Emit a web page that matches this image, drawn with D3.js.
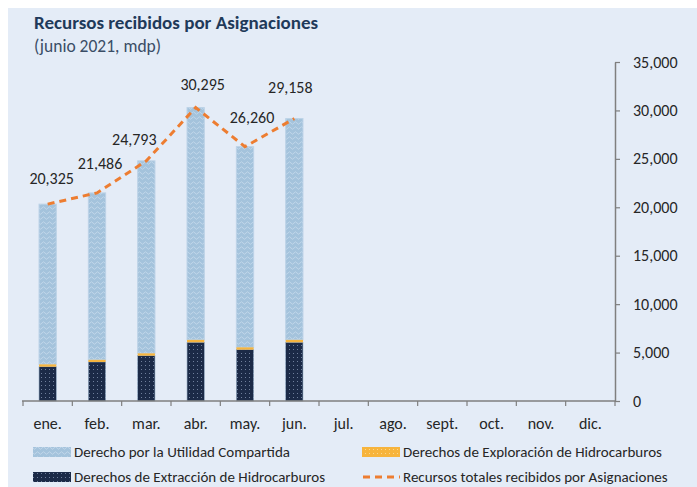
<!DOCTYPE html>
<html><head><meta charset="utf-8">
<script src="https://cdn.jsdelivr.net/npm/d3@7"></script>
<style>
html,body{margin:0;padding:0;background:#fff;}
text{font-family:Carlito,Calibri,Lato,"Open Sans",sans-serif;}
</style></head>
<body>
<svg id="c" width="697" height="487"></svg>
<script>
const months = ["ene.","feb.","mar.","abr.","may.","jun.","jul.","ago.","sept.","oct.","nov.","dic."];
const totals = [20325, 21486, 24793, 30295, 26260, 29158];
const extraccion = [3540, 4030, 4680, 6060, 5300, 6060];
const exploracion = [240, 220, 240, 250, 240, 250];
const utilidad = totals.map((t,i)=>t-extraccion[i]-exploracion[i]);
const yTicks = [0,5000,10000,15000,20000,25000,30000,35000];
const labelDx = [4, 3, -12, 7, 7, -4];
const labelDy = [-20, -24, -16, -18, -24, -26];

const svg = d3.select("#c");
svg.append("rect").attr("x",8).attr("y",8).attr("width",689).attr("height",479).attr("fill","#e4ecf7");

const defs = svg.append("defs");
const pw = defs.append("pattern").attr("id","wave").attr("patternUnits","userSpaceOnUse").attr("width",6).attr("height",5);
pw.append("rect").attr("width",6).attr("height",5).attr("fill","#a4c3dc");
pw.append("path").attr("d","M0,3 Q1.5,0.5 3,3 T6,3").attr("fill","none").attr("stroke","#c3d8ea").attr("stroke-width",0.9);
const pd = defs.append("pattern").attr("id","dots").attr("patternUnits","userSpaceOnUse").attr("width",4).attr("height",4);
pd.append("rect").attr("width",4).attr("height",4).attr("fill","#1b2a47");
pd.append("rect").attr("x",1).attr("y",1).attr("width",1).attr("height",1).attr("fill","#6f7f9c");
const po = defs.append("pattern").attr("id","orng").attr("patternUnits","userSpaceOnUse").attr("width",4).attr("height",4);
po.append("rect").attr("width",4).attr("height",4).attr("fill","#f7b43c");
po.append("rect").attr("x",1).attr("y",1).attr("width",1).attr("height",1).attr("fill","#fbd88e");

// titles
svg.append("text").attr("x",34).attr("y",29).attr("font-size",19).attr("font-weight","bold").attr("fill","#1f3a5a").text("Recursos recibidos por Asignaciones");
svg.append("text").attr("x",34).attr("y",52).attr("font-size",17.5).attr("fill","#3a4d66").text("(junio 2021, mdp)");

const x = d3.scaleBand().domain(months).range([23,615]).paddingInner(0).paddingOuter(0);
const y = d3.scaleLinear().domain([0,35000]).range([401,62]);
const bw = x.bandwidth()*0.35;
const cx = (i)=>x(months[i])+x.bandwidth()/2;

const gBars = svg.append("g");
const data = totals.map((t,i)=>({i, ex:extraccion[i], eo:exploracion[i], ut:utilidad[i]}));
gBars.selectAll(".ex").data(data).join("rect")
 .attr("x",d=>cx(d.i)-bw/2).attr("width",bw)
 .attr("y",d=>y(d.ex)).attr("height",d=>y(0)-y(d.ex))
 .attr("fill","url(#dots)").attr("stroke","#8fa7c0").attr("stroke-width",0.6);
gBars.selectAll(".ut").data(data).join("rect")
 .attr("x",d=>cx(d.i)-bw/2).attr("width",bw)
 .attr("y",d=>y(d.ex+d.eo+d.ut)).attr("height",d=>y(d.ex+d.eo)-y(d.ex+d.eo+d.ut))
 .attr("fill","url(#wave)").attr("stroke","#bcd3e7").attr("stroke-width",1);
gBars.selectAll(".eo").data(data).join("rect")
 .attr("x",d=>cx(d.i)-bw/2).attr("width",bw)
 .attr("y",d=>y(d.ex+d.eo)).attr("height",d=>y(d.ex)-y(d.ex+d.eo))
 .attr("fill","#f6b53f");

// x axis
const xAxis = svg.append("g").attr("transform","translate(0,401)")
  .call(d3.axisBottom(x).tickSize(0).tickPadding(17));
xAxis.select(".domain").attr("stroke","#7f7f7f").attr("stroke-width",1.5).attr("d","M22,0H615");
xAxis.selectAll("text").attr("font-size",16).attr("fill","#262626").attr("font-family","Carlito,Calibri,Lato,sans-serif");
const bounds = months.map(m=>x(m)).concat([615]);
xAxis.selectAll(".bt").data(bounds).join("line").attr("x1",d=>d).attr("x2",d=>d).attr("y1",0).attr("y2",5).attr("stroke","#7f7f7f").attr("stroke-width",1.2);

// y axis right
const yAxis = svg.append("g").attr("transform","translate(615,0)")
  .call(d3.axisRight(y).tickValues(yTicks).tickSize(5).tickPadding(13).tickSizeOuter(0).tickFormat(d3.format(",")));
yAxis.select(".domain").attr("stroke","#7f7f7f").attr("stroke-width",1.5);
yAxis.selectAll(".tick line").attr("stroke","#7f7f7f").attr("stroke-width",1.2);
yAxis.selectAll("text").attr("font-size",16).attr("fill","#262626").attr("font-family","Carlito,Calibri,Lato,sans-serif");

// line
const line = d3.line().x((d,i)=>cx(i)).y(d=>y(d));
svg.append("path").datum(totals).attr("d",line).attr("fill","none")
  .attr("stroke","#ed7d31").attr("stroke-width",3).attr("stroke-dasharray","7,5");

// labels
svg.selectAll(".lbl").data(totals).join("text")
 .attr("x",(d,i)=>cx(i)+labelDx[i]).attr("y",(d,i)=>y(d)+labelDy[i])
 .attr("text-anchor","middle").attr("font-size",16).attr("fill","#262626")
 .text(d=>d3.format(",")(d));

// legend
const leg = [
 {t:"Derecho por la Utilidad Compartida", f:"url(#wave)", x:33, y:452, type:"rect"},
 {t:"Derechos de Exploración de Hidrocarburos", f:"url(#orng)", x:362, y:452, type:"rect"},
 {t:"Derechos de Extracción de Hidrocarburos", f:"url(#dots)", x:33, y:477, type:"rect"},
 {t:"Recursos totales recibidos por Asignaciones", f:"#ed7d31", x:362, y:477, type:"line"}
];
const lg = svg.append("g");
leg.forEach(l=>{
  if(l.type==="rect"){
    lg.append("rect").attr("x",l.x).attr("y",l.y-5).attr("width",38).attr("height",10).attr("fill",l.f);
  } else {
    lg.append("line").attr("x1",l.x+1).attr("x2",l.x+38).attr("y1",l.y).attr("y2",l.y)
      .attr("stroke",l.f).attr("stroke-width",3).attr("stroke-dasharray","7,5");
  }
  lg.append("text").attr("x",l.x+41).attr("y",l.y+5).attr("font-size",15).attr("fill","#262626").text(l.t);
});
</script>
</body></html>
